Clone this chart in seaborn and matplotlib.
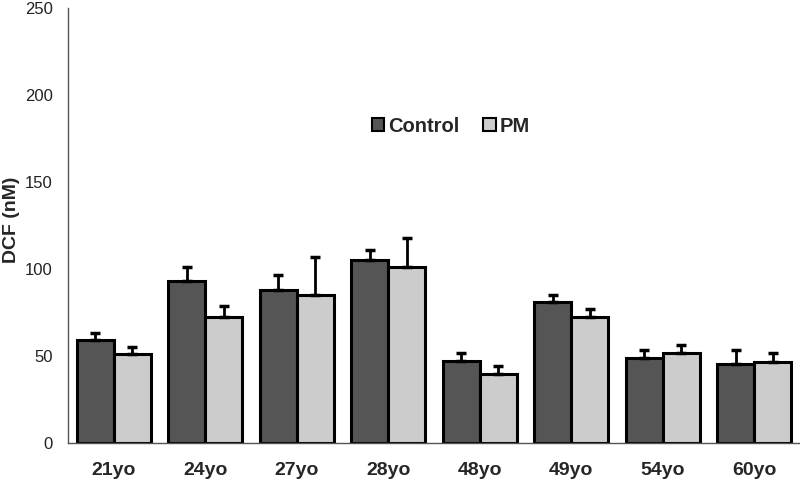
import numpy as np
import pandas as pd
import matplotlib
matplotlib.use("Agg")
import matplotlib.pyplot as plt
import seaborn as sns

ages = ["21yo", "24yo", "27yo", "28yo", "48yo", "49yo", "54yo", "60yo"]
control = [59, 93, 88, 105, 47, 81, 49, 45.5]
pm = [51, 72.5, 85, 101, 39.5, 72.5, 52, 46.5]
control_err = [4, 8, 8.5, 6, 5, 4, 4.5, 8]
pm_err = [4, 6, 22, 17, 5, 4.5, 4.5, 5]

df = pd.DataFrame({
    "age": ages * 2,
    "value": control + pm,
    "group": ["Control"] * len(ages) + ["PM"] * len(ages),
})

sns.set_style("white")
plt.rcParams["font.family"] = ["Liberation Sans", "DejaVu Sans"]

fig, ax = plt.subplots(figsize=(8, 4.8), dpi=100)
fig.subplots_adjust(left=0.085, right=1.0, bottom=0.077, top=0.983)

sns.barplot(data=df, x="age", y="value", hue="group", ax=ax,
            palette={"Control": "#555555", "PM": "#cccccc"},
            width=0.81, edgecolor="black", linewidth=2.2, errorbar=None,
            saturation=1)

# upward-only error bars at the bar centres
errs = control_err + pm_err
for patch, err in zip(ax.patches[:len(errs)], errs):
    xc = patch.get_x() + patch.get_width() / 2
    h = patch.get_height()
    ax.errorbar(xc, h, yerr=[[0], [err]], fmt="none", ecolor="black",
                elinewidth=2, capsize=3.5, capthick=2.5)

ax.set_ylim(0, 250)
ax.set_xlim(-0.5, len(ages) - 0.5)
ax.set_yticks(range(0, 251, 50))
ax.tick_params(axis="y", labelsize=12, colors="#222222", length=0, pad=11)
ax.tick_params(axis="x", labelsize=14, length=0, pad=14)
for lbl in ax.get_xticklabels():
    lbl.set_fontweight("bold")
ax.set_xlabel("")
ax.set_ylabel("DCF (nM)", fontsize=14, fontweight="bold")
ax.yaxis.set_label_coords(-0.065, 0.513)

for side in ["top", "right"]:
    ax.spines[side].set_visible(False)
for side in ["left", "bottom"]:
    ax.spines[side].set_color("#555555")
    ax.spines[side].set_linewidth(1)

leg = ax.legend(loc="center", bbox_to_anchor=(0.523, 0.729), ncol=2, frameon=False,
                prop={"weight": "bold", "size": 14.5}, handlelength=0.6,
                handleheight=0.6, handletextpad=0.2, columnspacing=1.2)
for h in leg.legend_handles:
    h.set_linewidth(1.5)

plt.savefig("out.png", dpi=100)
